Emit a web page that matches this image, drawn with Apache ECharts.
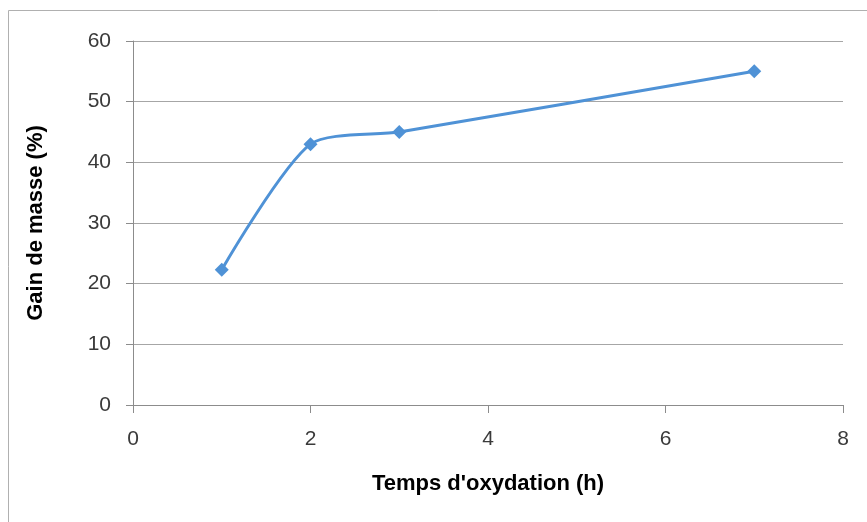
<!DOCTYPE html>
<html>
<head>
<meta charset="utf-8">
<script src="https://cdn.jsdelivr.net/npm/echarts@6/dist/echarts.min.js"></script>
<style>
  html, body { margin: 0; padding: 0; background: #fff; }
  #chart { width: 867px; height: 522px; }
</style>
</head>
<body>
<div id="chart"></div>
<script>
// données
var heures = [1, 2, 3, 7];
var gainMasse = [22.3, 43, 45, 55];
var xTicks = [0, 2, 4, 6, 8];
var yTicks = [0, 10, 20, 30, 40, 50, 60];

var chart = echarts.init(document.getElementById('chart'));

var points = heures.map(function (h, i) { return [h, gainMasse[i]]; });
var gris = '#8c8c8c';
var police = 'Liberation Sans, Arial, sans-serif';

var option = {
    animation: false,
    backgroundColor: '#fff',
    // cadre du graphique
    graphic: [{
        type: 'rect',
        shape: { x: 8.5, y: 10.5, width: 900, height: 600 },
        style: { fill: 'none', stroke: '#b0b0b0', lineWidth: 1 }
    }],
    grid: { left: 133, top: 41, right: 24, bottom: 117 },
    xAxis: {
        type: 'value',
        min: xTicks[0],
        max: xTicks[xTicks.length - 1],
        interval: 2,
        name: "Temps d'oxydation (h)",
        nameLocation: 'middle',
        nameGap: 68,
        nameTextStyle: { fontFamily: police, fontWeight: 'bold', fontSize: 22, color: '#000' },
        axisLine: { show: true, lineStyle: { color: gris, width: 1 } },
        axisTick: { show: true, length: 8, lineStyle: { color: gris } },
        axisLabel: { fontFamily: police, fontSize: 21, color: '#3a3a3a', margin: 24 },
        splitLine: { show: false }
    },
    yAxis: {
        type: 'value',
        min: yTicks[0],
        max: yTicks[yTicks.length - 1],
        interval: 10,
        name: 'Gain de masse (%)',
        nameLocation: 'middle',
        nameGap: 86,
        nameTextStyle: { fontFamily: police, fontWeight: 'bold', fontSize: 22, color: '#000' },
        axisLine: { show: true, lineStyle: { color: gris, width: 1 } },
        axisTick: { show: true, length: 7, lineStyle: { color: gris } },
        axisLabel: { fontFamily: police, fontSize: 21, color: '#3a3a3a', margin: 22 },
        splitLine: { show: true, lineStyle: { color: '#a6a6a6', width: 1 } }
    },
    series: [{
        type: 'line',
        data: points,
        smooth: 0.25,
        symbol: 'diamond',
        symbolSize: 14,
        lineStyle: { color: '#4f92d6', width: 3 },
        itemStyle: { color: '#4f92d6' }
    }]
};

chart.setOption(option);
</script>
</body>
</html>
